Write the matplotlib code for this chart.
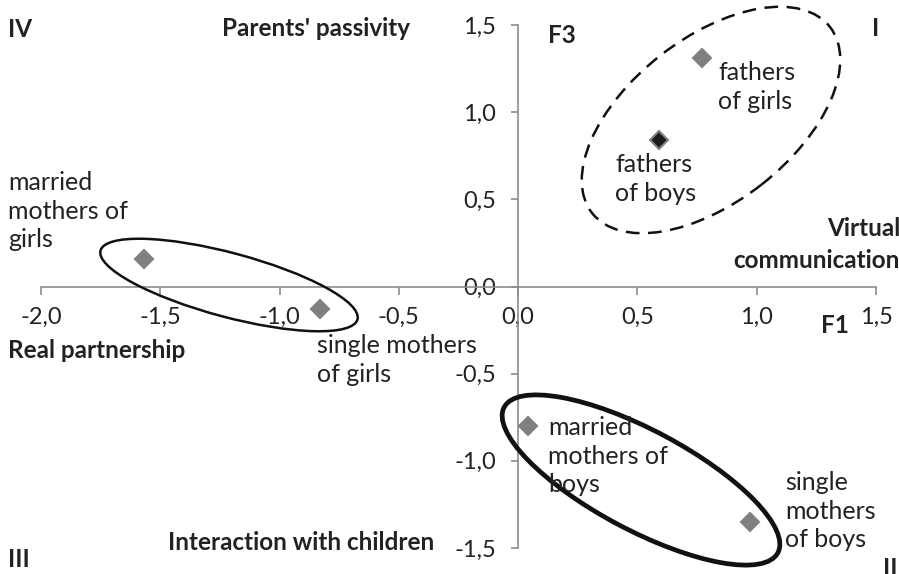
import matplotlib
matplotlib.use("Agg")
import matplotlib.pyplot as plt
from matplotlib.patches import Ellipse

plt.rcParams['font.family'] = ['Lato', 'DejaVu Sans']

# positions of the groups on F1 / F3
groups = ["married mothers of girls", "single mothers of girls", "fathers of girls",
          "fathers of boys", "married mothers of boys", "single mothers of boys"]
f1 = [-1.57, -0.83, 0.77, 0.59, 0.04, 0.97]
f3 = [0.16, -0.13, 1.31, 0.84, -0.80, -1.35]
face = ['#808080', '#808080', '#808080', '#1a1a1a', '#808080', '#808080']

xticks = [-2.0, -1.5, -1.0, -0.5, 0.0, 0.5, 1.0, 1.5]
yticks = [-1.5, -1.0, -0.5, 0.0, 0.5, 1.0, 1.5]

W, H = 899, 574
fig = plt.figure(figsize=(W / 100, H / 100), dpi=100)
ax = fig.add_axes([41 / W, 26 / H, 835 / W, 523 / H])

def px(x, y):
    # pixel position (from top-left) -> figure fraction
    return x / W, 1 - y / H

for i in range(len(groups)):
    ax.plot(f1[i], f3[i], marker='D', ms=9, color=face[i], mec='#808080', mew=1.5,
            ls='none', clip_on=False, zorder=3)

ax.set_xlim(-2.0, 1.5)
ax.set_ylim(-1.5, 1.5)
for s in ['top', 'right']:
    ax.spines[s].set_visible(False)
ax.spines['left'].set_position(('data', 0))
ax.spines['bottom'].set_position(('data', 0))
for s in ['left', 'bottom']:
    ax.spines[s].set_color('#8c8c8c')
    ax.spines[s].set_linewidth(1.2)
ax.set_xticks(xticks)
ax.set_yticks(yticks)
ax.set_xticklabels([f"{v:.1f}".replace('.', ',') for v in xticks])
ax.set_yticklabels([f"{v:.1f}".replace('.', ',') for v in yticks])
ax.tick_params(axis='x', direction='out', length=6, width=1.2, color='#8c8c8c',
               pad=9, labelsize=17, labelcolor='#222222')
ax.tick_params(axis='y', direction='out', length=5, width=1.2, color='#8c8c8c',
               pad=11, labelsize=17, labelcolor='#222222')
ax.patch.set_visible(False)

# group labels
lab = dict(fontsize=18, color='#222222', va='top', ha='left', linespacing=1.3)
fig.text(*px(8, 171), "married\nmothers of\ngirls", **lab)
fig.text(*px(317, 334), "single mothers\nof girls", **lab)
fig.text(*px(718, 61), "fathers\nof girls", **lab)
fig.text(*px(615, 153), "fathers\nof boys", **lab)
fig.text(*px(548, 416), "married\nmothers of\nboys", **lab)
fig.text(*px(785, 471), "single\nmothers\nof boys", **lab)

# axis poles and quadrants
bold = dict(fontsize=17.5, fontweight='bold', color='#222222', va='baseline')
fig.text(*px(8, 37), "IV", ha='left', **bold)
fig.text(*px(222, 36), "Parents' passivity", ha='left', **bold)
fig.text(*px(872, 36), "I", ha='left', **bold)
fig.text(*px(548, 43), "F3", ha='left', **bold)
fig.text(*px(827, 236), "Virtual", ha='left', **bold)
fig.text(*px(733, 268), "communication", ha='left', **bold)
fig.text(*px(821, 333), "F1", ha='left', **bold)
fig.text(*px(8, 358), "Real partnership", ha='left', **bold)
fig.text(*px(8, 567), "III", ha='left', **bold)
fig.text(*px(168, 550), "Interaction with children", ha='left', **bold)
fig.text(*px(883, 576), "II", ha='left', **bold)

# group outlines, drawn in inches (centre from top-left pixels)
def ring(cx, cy, a, b, ang, **kw):
    e = Ellipse((cx / 100, (H - cy) / 100), 2 * a / 100, 2 * b / 100, angle=ang,
                transform=fig.dpi_scale_trans, fill=False, ec='#111111', **kw)
    fig.add_artist(e)

ring(229, 285, 133, 32, -15, lw=1.8)
ring(641, 480, 155, 50, -28, lw=3.4)
ring(711, 120, 151, 82, 38, lw=1.8, ls=(0, (5.5, 3.4)))

fig.savefig("out.png", dpi=100)
